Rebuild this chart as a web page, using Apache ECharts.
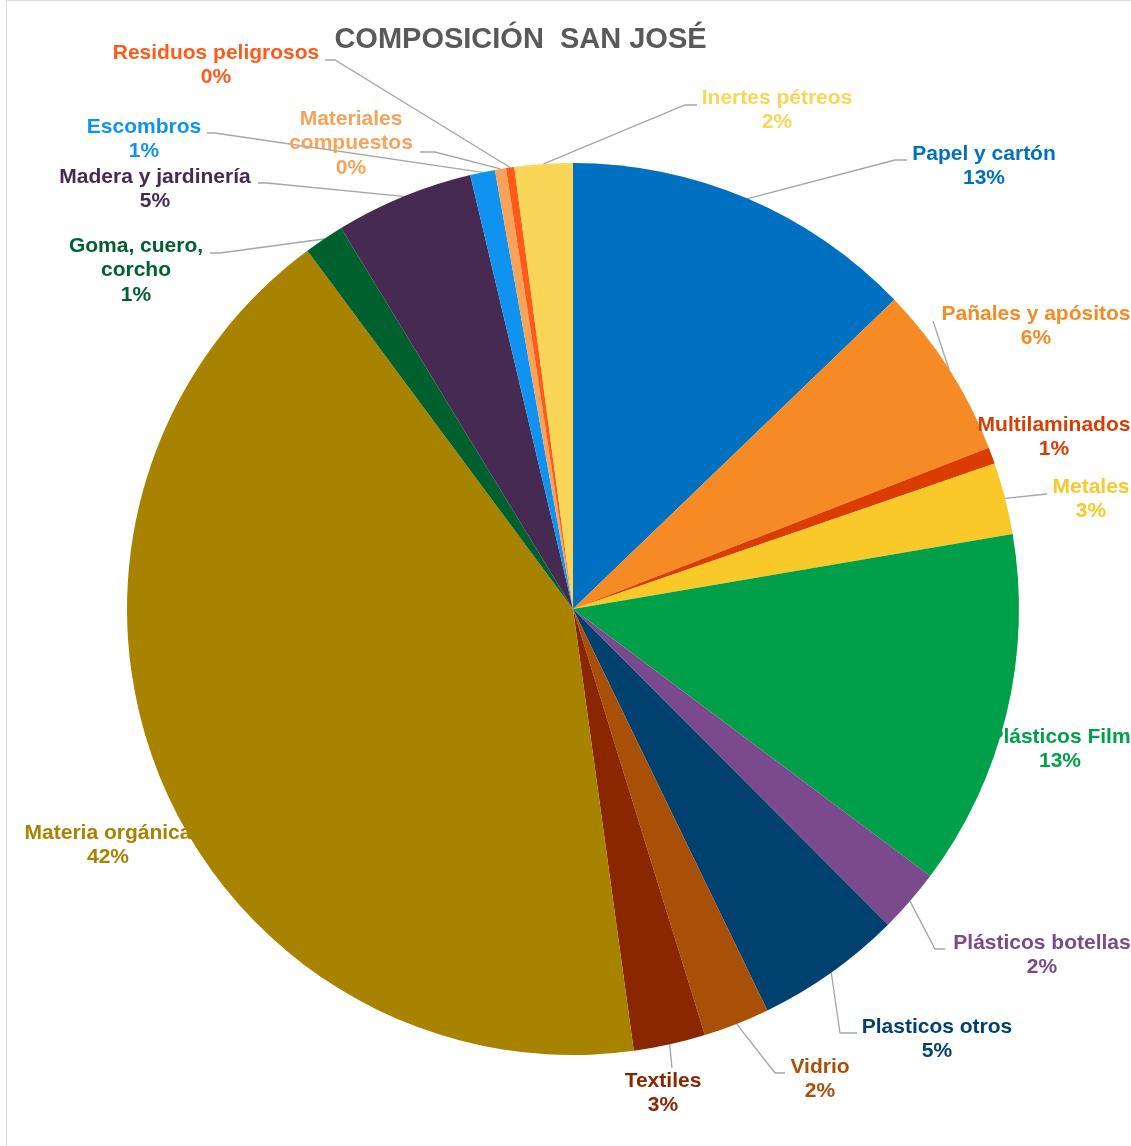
<!DOCTYPE html>
<html><head><meta charset="utf-8">
<script src="https://cdn.jsdelivr.net/npm/echarts@6/dist/echarts.min.js"></script>
<style>html,body{margin:0;padding:0;background:#fff}#c{width:1131px;height:1146px}</style>
</head><body><div id="c"></div>
<script>
var categories = ['Papel y cartón','Pañales y apósitos','Multilaminados','Metales','Plásticos Film','Plásticos botellas','Plasticos otros','Vidrio','Textiles','Materia orgánica','Goma, cuero,\ncorcho','Madera y jardinería','Escombros','Materiales\ncompuestos','Residuos peligrosos','Inertes pétreos'];
var values = [12.8, 6.3, 0.6, 2.6, 12.9, 2.3, 5.3, 2.4, 2.6, 42.0, 1.45, 5.0, 0.9, 0.4, 0.3, 2.1];
var colors = ['#0070C0','#F68A25','#DB3D00','#F8C928','#00A04B','#7B4A8C','#00416F','#A84F08','#8A2700','#A88300','#00612F','#462A51','#1093F0','#F7A359','#FF5A17','#F9D657'];
// label placement (centre x, first-line centre y) and leader points
var labelAnchors = [[984,154],[1036,314],[1054,425],[1091,487],[1060,737],[1042,943],[937,1027],[820,1067],[663,1081],[108,833],[136,246],[155,177],[144,127],[351,119],[216,53],[777,98]];
var leaders = [[[895,160],[907,160]],[[933,321],[933,321]],null,[[1047,494],[1047,494]],null,[[935,949],[945,949]],[[840,1033],[857,1033]],[[775,1073],[785,1073]],[[672,1068],[672,1068]],null,[[220,253],[210,253]],[[267,183],[258,183]],[[215,133],[207,133]],[[435,152],[420,152]],[[335,60],[325,60]],[[685,105],[697,105]]];

var data = categories.map(function(n,i){
  return {name:n, value:values[i], itemStyle:{color:colors[i]},
    label:{color:colors[i]}, labelLine:{show: leaders[i]!==null}};
});
var chart = echarts.init(document.getElementById('c'));
chart.setOption({
  animation:false,
  title:{text:'COMPOSICIÓN  SAN JOSÉ', left:515.5, top:20, textAlign:'center',
    textStyle:{fontFamily:'Liberation Sans, Arial', fontSize:29, fontWeight:'bold', color:'#595959'}},
  graphic:[{type:'rect', shape:{x:6.5,y:0.5,width:1300,height:1300}, style:{fill:null, stroke:'#D9D9D9', lineWidth:1}, z:-1}],
  series:[{
    type:'pie', center:[573,609], radius:446, startAngle:90, clockwise:true,
    avoidLabelOverlap:false, minShowLabelAngle:0,
    data:data,
    label:{show:true, position:'outside', fontFamily:'Liberation Sans, Arial', fontSize:21, fontWeight:'bold',
      lineHeight:24.5, align:'center',
      formatter:function(p){return p.name+'\n'+Math.round(p.percent)+'%';}},
    labelLine:{show:true, length:10, length2:10, lineStyle:{color:'#A6A6A6', width:1.3}},
    labelLayout:function(p){
      var i=p.dataIndex, a=labelAnchors[i], L=leaders[i];
      var r={x:a[0], y:a[1]-12.25, align:'center', verticalAlign:'top'};
      if(L && p.labelLinePoints){ r.labelLinePoints=[p.labelLinePoints[0], L[0], L[1]]; }
      return r;
    }
  }]
});
</script></body></html>
